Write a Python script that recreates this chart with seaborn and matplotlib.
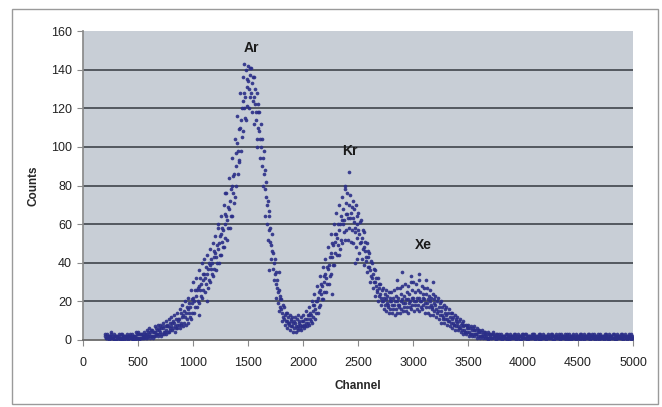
import numpy as np
import pandas as pd
import matplotlib
matplotlib.use("Agg")
import matplotlib.pyplot as plt
import seaborn as sns
from matplotlib.patches import Rectangle

# ---- data (channel grid every 25, six readings across the band) ----
channel_grid = np.arange(200, 5001, 25)

counts_a = [2,1,3,1,0,2,1,2, 1,2,0,2,3,1,2,3, 3,2,4,5,4,6,5,7, 7,9,8,11,12,12,16,17,
            22,23,28,29,34,34,39,40, 45,47,55,57,64,68,80,86, 102,110,124,126,134,128,126,114,
            108,90,78,60,51,37,29,19, 16,11,10,9,7,9,7,8, 10,9,13,13,18,20,26,28,
            34,37,45,49,55,57,62,62, 65,63,63,58,57,51,48,41, 38,32,30,25,24,20,21,18,
            20,18,20,18,21,19,21,20, 22,20,22,20,21,19,20,17, 18,15,15,12,13,10,11,8,
            9,6,7,4,6,3,5,3, 4,2,3,1,2,3,1,2, 1,2,1,2,1,2,1,2, 2,1,2,1,2,1,2,1,
            1,2,1,2,2,1,2,1, 2,1,2,1,1,2,1,2, 1,2,2,1,2,1,2,1, 2,1,1,2,1,2,1,2, 1]

counts_b = [3,2,4,3,2,3,3,2, 3,3,2,4,4,3,4,5, 6,5,7,8,8,9,10,11, 12,13,14,16,18,20,22,26,
            30,32,36,40,42,44,47,50, 54,58,64,70,76,84,94,104, 116,128,136,140,142,141,136,128,
            118,104,88,72,58,45,35,26, 21,17,14,13,12,12,13,12, 13,15,17,20,24,28,33,38,
            42,48,55,60,66,70,74,80, 76,75,72,70,66,62,56,50, 45,40,36,32,29,27,26,25,
            25,26,27,27,28,29,28,30, 30,29,31,28,27,27,26,24, 23,22,20,18,17,16,14,13,
            12,11,10,8,8,7,7,6, 5,5,4,4,3,4,3,3, 3,2,3,3,2,3,3,2, 3,3,2,3,3,2,3,3,
            2,3,3,2,3,3,2,3, 3,2,3,3,2,3,3,2, 3,3,2,3,3,2,3,3, 2,3,3,2,3,3,2,3, 2]

counts_c = [1,0,1,0,1,0,0,1, 0,1,0,1,0,1,1,1, 1,1,2,2,2,3,3,4, 5,4,6,6,7,8,9,11,
            14,17,19,22,25,27,30,33, 36,40,44,48,52,58,64,74, 86,98,108,114,120,118,112,104,
            94,80,64,52,42,31,22,15, 10,8,6,5,4,4,5,5, 6,7,8,9,11,14,18,21,
            25,29,34,39,44,47,50,52, 52,51,50,48,45,42,39,35, 30,27,23,20,18,16,15,14,
            14,13,14,14,15,15,14,16, 15,16,15,16,14,14,13,13, 12,11,9,9,8,7,6,5,
            5,4,3,3,2,2,2,1, 1,1,1,0,1,1,0,1, 0,1,0,1,1,0,1,0, 1,0,1,1,0,1,0,1,
            0,1,1,0,1,0,1,1, 1,0,1,0,1,1,0,1, 0,1,0,1,1,0,1,0, 1,0,1,1,0,1,1,0, 1]

counts_d = [1,2,1,2,2,1,2,1, 2,1,2,1,1,3,2,2, 4,4,3,5,6,4,7,6, 9,7,10,9,13,14,14,19,
            20,26,26,31,32,37,37,43, 43,50,51,60,62,72,76,90, 98,114,120,131,130,133,122,118,
            104,94,74,64,49,40,27,21, 14,13,9,10,9,7,9,7, 8,11,11,15,16,22,24,30,
            32,39,43,51,53,60,60,65, 63,66,61,60,55,53,46,43, 36,34,28,27,22,22,19,20,
            18,20,18,20,19,21,19,22, 20,22,20,22,19,21,18,19, 16,17,13,14,11,12,9,10,
            7,8,5,6,4,5,3,4, 2,3,2,3,1,2,2,1, 2,1,2,1,2,1,2,1, 1,2,1,2,1,2,1,2,
            2,1,2,1,1,2,1,2, 1,2,1,2,2,1,2,1, 2,1,1,2,1,2,1,2, 1,2,2,1,2,1,2,1, 2]

counts_e = [3,2,2,2,1,3,2,2, 2,3,1,3,3,2,3,4, 5,4,6,6,7,7,8,9, 10,11,11,14,15,17,19,21,
            26,27,32,34,38,40,42,46, 49,54,58,65,69,78,85,97, 109,120,128,135,137,136,130,122,
            112,98,82,67,55,42,31,23, 18,14,12,11,10,11,10,10, 11,13,14,18,20,25,29,33,
            38,43,50,55,60,64,68,71, 70,69,68,64,61,57,51,46, 41,37,32,29,26,24,23,22,
            22,23,22,24,23,25,24,26, 25,26,25,24,24,23,22,21, 20,19,17,16,14,14,12,11,
            10,9,8,7,6,6,5,5, 4,4,3,3,3,2,3,2, 2,3,2,2,3,2,2,3, 3,2,2,3,2,3,2,2,
            2,2,3,2,2,3,2,2, 3,2,2,2,3,2,2,3, 2,3,2,2,2,3,2,2, 3,2,2,3,2,2,3,2, 2]

counts_f = [1,1,1,0,1,1,0,1, 1,1,0,1,1,1,1,2, 2,2,3,3,3,4,4,5, 6,6,8,8,9,11,12,14,
            17,20,23,26,29,31,34,37, 40,44,48,53,58,64,71,80, 93,105,115,121,126,124,118,110,
            100,86,70,57,46,34,25,17, 12,10,8,7,6,6,6,7, 7,9,10,12,14,17,21,25,
            29,33,39,45,49,52,56,57, 58,57,56,53,50,47,43,38, 33,30,26,23,20,18,17,16,
            16,16,17,16,17,17,17,18, 18,18,17,18,17,17,16,15, 14,13,11,11,10,9,8,7,
            6,5,4,4,3,3,3,2, 2,2,1,1,1,2,1,1, 1,1,0,1,1,1,0,1, 1,0,1,1,1,0,1,1,
            1,1,0,1,1,1,1,0, 0,1,1,1,0,1,1,1, 1,1,1,0,1,1,0,1, 1,0,1,1,1,0,1,1, 1]

# sparse outliers seen above / below the band
outlier_channel = [1460, 1515, 1290, 1420, 1580, 2420, 2380, 2470, 2490, 2900, 3050, 3120,
                   2980, 1050, 1690, 2260, 1780, 1230, 2330, 3180, 2850, 1130]
outlier_counts  = [143, 141, 76, 92, 100, 87, 78, 40, 42, 35, 34, 31,
                   33, 13, 36, 24, 35, 60, 44, 30, 31, 20]

x_ticks = [0, 500, 1000, 1500, 2000, 2500, 3000, 3500, 4000, 4500, 5000]
y_ticks = [0, 20, 40, 60, 80, 100, 120, 140, 160]
peak_labels = ["Ar", "Kr", "Xe"]
peak_channel = [1530, 2430, 3090]
peak_counts = [151, 98, 49]

# ---- build table ----
frames = []
for offs, vals in zip([0, 4, 8, 12, 16, 20],
                      [counts_a, counts_b, counts_c, counts_d, counts_e, counts_f]):
    frames.append(pd.DataFrame({"Channel": channel_grid + offs, "Counts": vals}))
frames.append(pd.DataFrame({"Channel": outlier_channel, "Counts": outlier_counts}))
df = pd.concat(frames, ignore_index=True)
df = df[df["Channel"] <= 5000]

sns.set_theme(style="white")
plt.rcParams["font.family"] = ["Liberation Sans", "DejaVu Sans"]

fig = plt.figure(figsize=(6.62, 4.07), dpi=100)
fig.patch.set_facecolor("white")
fig.add_artist(Rectangle((12/662, 3/407), 646/662, 395/407, transform=fig.transFigure,
                         fill=False, edgecolor="#9a9a9a", linewidth=1.0))

ax = fig.add_axes([83/662, (407-340)/407, 550/662, 309/407])
ax.set_facecolor("#c8ced6")

sns.scatterplot(data=df, x="Channel", y="Counts", ax=ax, color="#2b2e88",
                s=7, linewidth=0, alpha=0.9, zorder=3, legend=False)

ax.set_xlim(0, 5000)
ax.set_ylim(0, 160)
ax.set_xticks(x_ticks)
ax.set_yticks(y_ticks)
ax.set_xticklabels([str(v) for v in x_ticks], fontsize=9)
ax.set_yticklabels([str(v) for v in y_ticks], fontsize=9)
for v in y_ticks[1:-1]:
    ax.axhline(v, color="#53585f", linewidth=1.4, zorder=1)

for s in ["top", "right"]:
    ax.spines[s].set_visible(False)
ax.spines["left"].set_color("#8a8a8a")
ax.spines["bottom"].set_color("#6a6a6a")
ax.spines["bottom"].set_linewidth(1.3)
ax.tick_params(axis="x", which="major", length=4, width=0.8, color="#8a8a8a",
               direction="out", bottom=True, pad=8, labelcolor="#222222")
ax.tick_params(axis="y", which="major", length=4, width=0.8, color="#8a8a8a",
               direction="out", left=True, pad=4, labelcolor="#222222")

ax.set_xlabel("Channel", fontsize=8.5, fontweight="bold", labelpad=8)
ax.set_ylabel("Counts", fontsize=8.5, fontweight="bold", labelpad=8)

for lab, cx, cy in zip(peak_labels, peak_channel, peak_counts):
    ax.text(cx, cy, lab, fontsize=10, fontweight="bold", ha="center", va="center",
            color="#1a1a1a", zorder=4)

fig.savefig("out.png", dpi=100, facecolor="white")
